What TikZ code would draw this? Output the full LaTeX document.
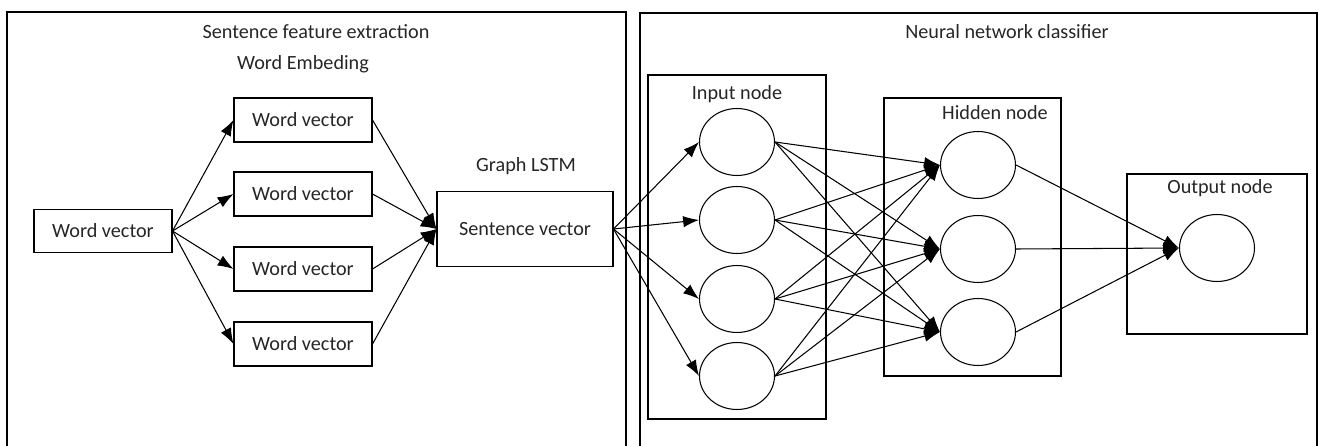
\documentclass[tikz,border=0pt]{standalone}
\usepackage{fontspec}
\setmainfont{Carlito}
\usetikzlibrary{shapes.geometric,arrows.meta}
\tikzset{
  wordbox/.style={draw,line width=0.6pt,minimum width=2.76cm,minimum height=0.88cm,text=black!85},
  unit/.style={draw,ellipse,line width=0.6pt,minimum width=1.5cm,minimum height=1.34cm,inner sep=0pt},
  group/.style={draw,line width=0.6pt},
  caption/.style={text=black!85}
}
\begin{document}
\begin{tikzpicture}[x=0.02cm,y=-0.02cm,font=\fontsize{11.5}{13}\selectfont]
      \useasboundingbox (0,0) rectangle (1323,446);
      % outer frames, open at the bottom
      \draw[group] (7,446) -- (7,12) -- (626,12) -- (626,446);
      \draw[group] (640,446) -- (640,13) -- (1317,13) -- (1317,446);
      \node[caption] (t1) at (316,32) {Sentence feature extraction};
      \node[caption] (t2) at (303,64) {Word Embeding};
      \node[caption] (t3) at (1007,32) {Neural network classifier};
      \node[caption] (t4) at (526,166) {Graph LSTM};
      % layer frames
      \draw[group] (648,75) rectangle (826,419);
      \draw[group] (884,98) rectangle (1061,376);
      \draw[group] (1127,174) rectangle (1307,334);
      \node[caption] (t5) at (737,94) {Input node};
      \node[caption] (t6) at (995,113) {Hidden node};
      \node[caption] (t7) at (1220,188) {Output node};
      \draw
        (103,231) node[wordbox,minimum height=0.86cm] (w){Word vector}
        (303,120) node[wordbox] (w1){Word vector}
        (303,194) node[wordbox] (w2){Word vector}
        (303,269) node[wordbox] (w3){Word vector}
        (303,344) node[wordbox] (w4){Word vector}
        (525,229) node[wordbox,minimum width=3.52cm,minimum height=1.5cm] (s){Sentence vector}
        (737,142) node[unit] (i1){}
        (737,220) node[unit] (i2){}
        (737,299) node[unit] (i3){}
        (737,376) node[unit] (i4){}
        (978,165) node[unit] (h1){}
        (978,249) node[unit] (h2){}
        (978,332) node[unit] (h3){}
        (1217,248) node[unit] (o){};
      \begin{scope}[-{Latex[length=9pt,width=6.5pt]},line width=0.6pt]
        \draw (w.east) to (w1.west);
        \draw (w.east) to (w2.west);
        \draw (w.east) to (w3.west);
        \draw (w.east) to (w4.west);
        \draw (w1.east) to (s.west);
        \draw (w2.east) to (s.west);
        \draw (w3.east) to (s.west);
        \draw (w4.east) to (s.west);
        \draw (s.east) to (i1.west);
        \draw (s.east) to (i2.west);
        \draw (s.east) to (i3.west);
        \draw (s.east) to (i4.west);
        \draw (i1.east) to (h1.west);
        \draw (i1.east) to (h2.west);
        \draw (i1.east) to (h3.west);
        \draw (i2.east) to (h1.west);
        \draw (i2.east) to (h2.west);
        \draw (i2.east) to (h3.west);
        \draw (i3.east) to (h1.west);
        \draw (i3.east) to (h2.west);
        \draw (i3.east) to (h3.west);
        \draw (i4.east) to (h1.west);
        \draw (i4.east) to (h2.west);
        \draw (i4.east) to (h3.west);
        \draw (h1.east) to (o.west);
        \draw (h2.east) to (o.west);
        \draw (h3.east) to (o.west);
      \end{scope}
    \end{tikzpicture}
\end{document}
